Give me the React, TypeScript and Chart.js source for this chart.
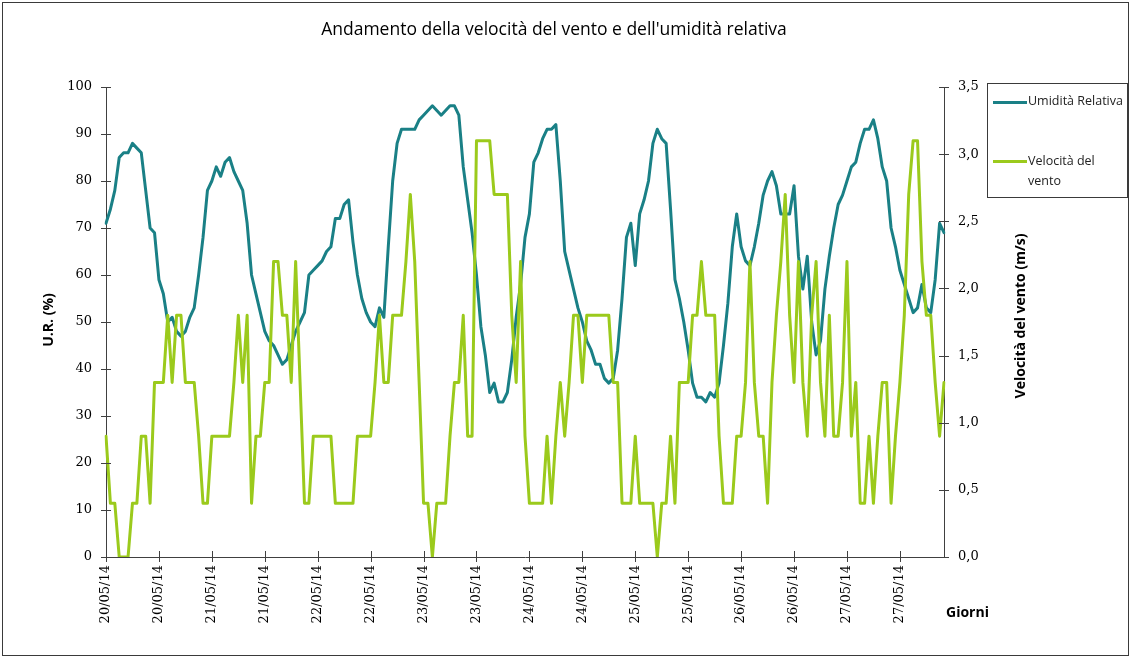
import React, { useEffect, useRef } from 'react';
import { Chart, registerables } from 'chart.js';

Chart.register(...registerables);

// Tick labels on the x axis (one every 12 hourly readings)
const TICK_LABELS = [
  '20/05/14', '20/05/14', '21/05/14', '21/05/14', '22/05/14', '22/05/14',
  '23/05/14', '23/05/14', '24/05/14', '24/05/14', '25/05/14', '25/05/14',
  '26/05/14', '26/05/14', '27/05/14', '27/05/14',
];
const HOURS_PER_LABEL = 12;

// Umidità relativa (%), hourly
const UMIDITA = [
  71, 74, 78, 85, 86, 86, 88, 87, 86, 78,
  70, 69, 59, 56, 50, 51, 48, 47, 48, 51,
  53, 60, 68, 78, 80, 83, 81, 84, 85, 82,
  80, 78, 71, 60, 56, 52, 48, 46, 45, 43,
  41, 42, 45, 48, 50, 52, 60, 61, 62, 63,
  65, 66, 72, 72, 75, 76, 67, 60, 55, 52,
  50, 49, 53, 51, 66, 80, 88, 91, 91, 91,
  91, 93, 94, 95, 96, 95, 94, 95, 96, 96,
  94, 83, 76, 69, 60, 49, 43, 35, 37, 33,
  33, 35, 42, 51, 58, 68, 73, 84, 86, 89,
  91, 91, 92, 80, 65, 61, 57, 53, 50, 46,
  44, 41, 41, 38, 37, 38, 44, 55, 68, 71,
  62, 73, 76, 80, 88, 91, 89, 88, 74, 59,
  55, 50, 44, 37, 34, 34, 33, 35, 34, 37,
  45, 54, 66, 73, 66, 63, 62, 66, 71, 77,
  80, 82, 79, 73, 73, 73, 79, 64, 57, 64,
  50, 43, 46, 57, 64, 70, 75, 77, 80, 83,
  84, 88, 91, 91, 93, 89, 83, 80, 70, 66,
  61, 58, 55, 52, 53, 58, 53, 52, 59, 71, 69,
];

// Velocità del vento (m/s), hourly
const VENTO = [
  0.9, 0.4, 0.4, 0, 0, 0, 0.4, 0.4, 0.9, 0.9,
  0.4, 1.3, 1.3, 1.3, 1.8, 1.3, 1.8, 1.8, 1.3, 1.3,
  1.3, 0.9, 0.4, 0.4, 0.9, 0.9, 0.9, 0.9, 0.9, 1.3,
  1.8, 1.3, 1.8, 0.4, 0.9, 0.9, 1.3, 1.3, 2.2, 2.2,
  1.8, 1.8, 1.3, 2.2, 1.3, 0.4, 0.4, 0.9, 0.9, 0.9,
  0.9, 0.9, 0.4, 0.4, 0.4, 0.4, 0.4, 0.9, 0.9, 0.9,
  0.9, 1.3, 1.8, 1.3, 1.3, 1.8, 1.8, 1.8, 2.2, 2.7,
  2.2, 1.3, 0.4, 0.4, 0, 0.4, 0.4, 0.4, 0.9, 1.3,
  1.3, 1.8, 0.9, 0.9, 3.1, 3.1, 3.1, 3.1, 2.7, 2.7,
  2.7, 2.7, 1.8, 1.3, 2.2, 0.9, 0.4, 0.4, 0.4, 0.4,
  0.9, 0.4, 0.9, 1.3, 0.9, 1.3, 1.8, 1.8, 1.3, 1.8,
  1.8, 1.8, 1.8, 1.8, 1.8, 1.3, 1.3, 0.4, 0.4, 0.4,
  0.9, 0.4, 0.4, 0.4, 0.4, 0, 0.4, 0.4, 0.9, 0.4,
  1.3, 1.3, 1.3, 1.8, 1.8, 2.2, 1.8, 1.8, 1.8, 0.9,
  0.4, 0.4, 0.4, 0.9, 0.9, 1.3, 2.2, 1.3, 0.9, 0.9,
  0.4, 1.3, 1.8, 2.2, 2.7, 1.8, 1.3, 2.2, 1.3, 0.9,
  1.8, 2.2, 1.3, 0.9, 1.8, 0.9, 0.9, 1.3, 2.2, 0.9,
  1.3, 0.4, 0.4, 0.9, 0.4, 0.9, 1.3, 1.3, 0.4, 0.9,
  1.3, 1.8, 2.7, 3.1, 3.1, 2.2, 1.8, 1.8, 1.3, 0.9, 1.3,
];

const CATEGORIES = UMIDITA.map((_, i) =>
  i % HOURS_PER_LABEL === 0 ? TICK_LABELS[i / HOURS_PER_LABEL] ?? '' : ''
);

const TEAL = '#1a8086';
const GREEN = '#9bca1c';
const AXIS = '#404040';
const TICK_FONT = { family: 'DejaVu Serif', size: 13 };
const LABEL_FONT = "'Open Sans', 'DejaVu Sans', sans-serif";

const crossTicks = {
  id: 'crossTicks',
  afterDraw(chart: any) {
    const { ctx } = chart;
    const x = chart.scales.x;
    const y = chart.scales.y;
    const y1 = chart.scales.y1;
    ctx.save();
    ctx.strokeStyle = AXIS;
    ctx.lineWidth = 1;
    ctx.beginPath();
    y.ticks.forEach((t: any) => {
      const py = Math.round(y.getPixelForValue(t.value)) + 0.5;
      ctx.moveTo(x.left - 5, py);
      ctx.lineTo(x.left + 5, py);
    });
    y1.ticks.forEach((t: any) => {
      const py = Math.round(y1.getPixelForValue(t.value)) + 0.5;
      ctx.moveTo(x.right - 5, py);
      ctx.lineTo(x.right + 5, py);
    });
    const yb = y.bottom;
    CATEGORIES.forEach((lab, i) => {
      if (i % HOURS_PER_LABEL !== 0) return;
      const px = Math.round(x.getPixelForValue(i)) + 0.5;
      ctx.moveTo(px, yb - 6);
      ctx.lineTo(px, yb + 5);
    });
    ctx.stroke();
    ctx.restore();
  },
};

export default function App() {
  const ref = useRef<HTMLCanvasElement>(null);

  useEffect(() => {
    document.body.style.margin = '0';
    const chart = new Chart(ref.current as HTMLCanvasElement, {
      type: 'line',
      data: {
        labels: CATEGORIES,
        datasets: [
          {
            label: 'Velocità del vento',
            data: VENTO,
            yAxisID: 'y1',
            borderColor: GREEN,
            backgroundColor: GREEN,
            borderWidth: 3,
            pointRadius: 0,
            tension: 0,
            borderJoinStyle: 'round',
            borderCapStyle: 'round',
            order: 0,
          },
          {
            label: 'Umidità Relativa',
            data: UMIDITA,
            yAxisID: 'y',
            borderColor: TEAL,
            backgroundColor: TEAL,
            borderWidth: 3,
            pointRadius: 0,
            tension: 0,
            borderJoinStyle: 'round',
            borderCapStyle: 'round',
            order: 1,
          },
        ],
      },
      options: {
        responsive: false,
        animation: false,
        devicePixelRatio: 1,
        layout: { padding: { top: 87, left: 0, right: 0, bottom: 0 } },
        plugins: {
          legend: { display: false },
          tooltip: { enabled: false },
          title: { display: false },
        },
        scales: {
          x: {
            type: 'category',
            offset: false,
            grid: { display: true, drawOnChartArea: false, drawTicks: false },
            border: { display: true, color: AXIS, width: 1 },
            ticks: {
              autoSkip: false,
              maxRotation: 90,
              minRotation: 90,
              padding: 8,
              color: '#000',
              font: TICK_FONT,
            },
            afterFit: (s: any) => { s.height = 103; },
          },
          y: {
            position: 'left',
            min: 0,
            max: 100,
            grid: { display: true, drawOnChartArea: false, drawTicks: false },
            border: { display: true, color: AXIS, width: 1 },
            ticks: { stepSize: 10, padding: 14, color: '#000', font: TICK_FONT },
            afterFit: (s: any) => { s.width = 106; },
          },
          y1: {
            position: 'right',
            min: 0,
            max: 3.5,
            grid: { display: true, drawOnChartArea: false, drawTicks: false },
            border: { display: true, color: AXIS, width: 1 },
            ticks: {
              stepSize: 0.5,
              padding: 14,
              color: '#000',
              font: TICK_FONT,
              callback: (v: any) => Number(v).toFixed(1).replace('.', ','),
            },
            afterFit: (s: any) => { s.width = 187; },
          },
        },
      },
      plugins: [crossTicks],
    } as any);
    return () => chart.destroy();
  }, []);

  const rotated = (cx: number, cy: number): React.CSSProperties => ({
    position: 'absolute',
    left: cx,
    top: cy,
    transform: 'translate(-50%, -50%) rotate(-90deg)',
    whiteSpace: 'nowrap',
    fontFamily: LABEL_FONT,
    fontWeight: 700,
    fontSize: 14,
    color: '#000',
  });

  return (
    <div style={{ position: 'relative', width: 1131, height: 660, background: '#fff' }}>
      <canvas ref={ref} width={1131} height={660} style={{ display: 'block', width: 1131, height: 660 }} />
      <div style={{ position: 'absolute', left: 2, top: 2, width: 1125, height: 652, border: '1px solid #3a3a3a', pointerEvents: 'none' }} />
      <div style={{ position: 'absolute', left: 0, width: 1108, top: 16, textAlign: 'center', fontFamily: LABEL_FONT, fontSize: 17.5, color: '#000', whiteSpace: 'nowrap' }}>
        Andamento della velocità del vento e dell'umidità relativa
      </div>
      <div style={rotated(47, 320)}>U.R. (%)</div>
      <div style={rotated(1019, 316)}>Velocità del vento (m/s)</div>
      <div style={{ position: 'absolute', left: 946, top: 602, fontFamily: LABEL_FONT, fontWeight: 700, fontSize: 14, color: '#000' }}>Giorni</div>
      <div style={{ position: 'absolute', left: 987, top: 83, width: 139, height: 113, border: '1px solid #3a3a3a', background: '#fff', fontFamily: LABEL_FONT, fontSize: 12.5, color: '#222' }}>
        <div style={{ position: 'absolute', left: 5, top: 17, width: 34, height: 3, background: TEAL }} />
        <div style={{ position: 'absolute', left: 40, top: 8, whiteSpace: 'nowrap' }}>Umidità Relativa</div>
        <div style={{ position: 'absolute', left: 5, top: 76, width: 34, height: 3, background: GREEN }} />
        <div style={{ position: 'absolute', left: 40, top: 67, width: 80, lineHeight: '20px' }}>Velocità del vento</div>
      </div>
    </div>
  );
}
